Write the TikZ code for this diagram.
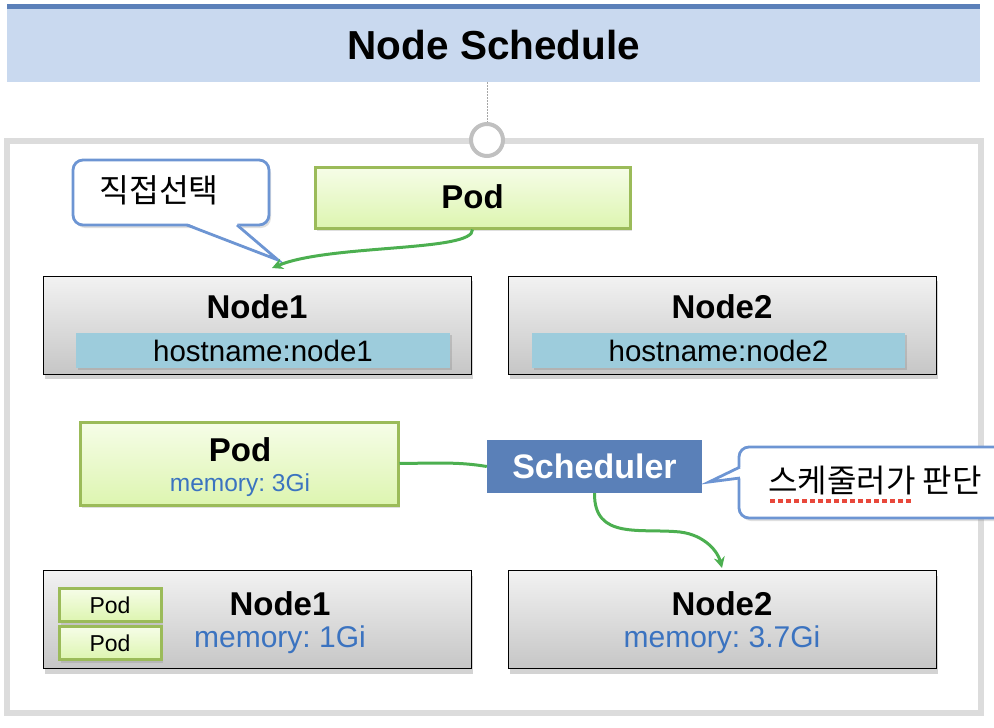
\documentclass[tikz,border=0pt]{standalone}
\usepackage{fontspec}
\setmainfont{Liberation Sans}
\newfontfamily\kr{Noto Sans CJK KR}
\usetikzlibrary{shadows,arrows.meta}
\frenchspacing
\definecolor{titlefill}{HTML}{C9D9EF}
\definecolor{titlestripe}{HTML}{5B80B9}
\definecolor{podtopc}{HTML}{F6FDE8}
\definecolor{podbotc}{HTML}{DDF5B0}
\definecolor{podborder}{HTML}{9BBB59}
\definecolor{nodetopc}{HTML}{F2F2F2}
\definecolor{nodebotc}{HTML}{C6C6C6}
\definecolor{hostfill}{HTML}{9DCCDC}
\definecolor{memblue}{HTML}{3B73C0}
\definecolor{schedfill}{HTML}{5A80B8}
\definecolor{callborder}{HTML}{6D95D3}
\definecolor{arrgreen}{HTML}{4CAF50}
\definecolor{framegray}{HTML}{DCDCDC}
\definecolor{circgray}{HTML}{C0C0C0}
\definecolor{spellred}{HTML}{E8483B}
\begin{document}
\begin{tikzpicture}[x=1pt,y=-1pt,
  nodebox/.style={draw=black, line width=0.9pt, top color=nodetopc, bottom color=nodebotc, inner sep=0pt,
    drop shadow={opacity=0.35, shadow xshift=2pt, shadow yshift=-5pt}},
  podbox/.style={draw=podborder, line width=3pt, top color=podtopc, bottom color=podbotc, inner sep=0pt,
    drop shadow={opacity=0.25, shadow xshift=2pt, shadow yshift=-3pt}},
  hostbar/.style={fill=hostfill, inner sep=0pt, font=\fontsize{29.5}{33}\selectfont,
    drop shadow={opacity=0.3, shadow xshift=2pt, shadow yshift=-2pt}},
  boldlabel/.style={font=\bfseries\fontsize{33}{37}\selectfont, inner sep=0pt},
  memlabel/.style={font=\fontsize{30}{34}\selectfont, text=memblue, inner sep=0pt},
  callout/.style={draw=callborder, line width=2.8pt, fill=white, rounded corners=10pt, inner sep=0pt,
    drop shadow={opacity=0.25, shadow xshift=2pt, shadow yshift=-3pt}},
  garrow/.style={draw=arrgreen, line width=3pt, -{Stealth[length=11pt,width=11pt]}},
  gline/.style={draw=arrgreen, line width=3pt}
]
\useasboundingbox (0,0) rectangle (994,728);

% title band
\node[fill=titlefill, minimum width=973pt, minimum height=78pt, inner sep=0pt] (title) at (493.5,43) {};
\fill[titlestripe] (7,4) rectangle (980,9);
\node[font=\bfseries\fontsize{40.5}{45}\selectfont, inner sep=0pt] (titletext) at (494,45) {Node Schedule};

% outer frame
\node[draw=framegray, line width=6pt, minimum width=974pt, minimum height=572pt, inner sep=0pt] (frame) at (494,427) {};
\node[circle, draw=circgray, line width=4pt, fill=white, minimum size=32pt, inner sep=0pt] (ring) at (487,140) {};
\draw[gray!70, line width=0.6pt, dash pattern=on 1.5pt off 1.5pt] (title.south -| ring) -- (ring.north);

% callout 1
\node[callout, minimum width=196pt, minimum height=65pt] (call1) at (171,192.5) {};
\coordinate (c1tip) at (278,260);
\fill[white] (187,223.2) -- (c1tip) -- (237,223.2) -- cycle;
\draw[callborder, line width=2.8pt, line join=miter] (187,225) -- (c1tip) -- (237,225);
\node[font=\kr\fontsize{32.5}{36}\selectfont, inner sep=0pt] (call1text) at (159,190) {직접선택};

% top pod
\node[podbox, minimum width=315pt, minimum height=61pt] (podtop) at (472.5,197.5) {};
\node[boldlabel] (podtoplabel) at (472.5,197) {Pod};

% top nodes
\node[nodebox, minimum width=428pt, minimum height=98pt] (n1a) at (257,325) {};
\node[boldlabel] (n1alabel) at (257,307) {Node1};
\node[hostbar, minimum width=374pt, minimum height=35pt] (host1) at (263,350.5) {hostname:node1};
\node[nodebox, minimum width=428pt, minimum height=98pt] (n2a) at (722,325) {};
\node[boldlabel] (n2alabel) at (722,307) {Node2};
\node[hostbar, minimum width=373pt, minimum height=35pt] (host2) at (718.5,350.5) {hostname:node2};

\coordinate (n1aend) at (272,268);
\draw[garrow] (podtop.south) .. controls (474,252) and (330,244) .. (n1aend);

% middle pod and scheduler
\node[podbox, minimum width=318pt, minimum height=83pt] (podmid) at (239,463.5) {};
\node[boldlabel] (podmidlabel) at (240,450) {Pod};
\node[memlabel, font=\fontsize{24.5}{28}\selectfont] (podmidmem) at (240,485) {memory: 3Gi};
\node[fill=schedfill, minimum width=215pt, minimum height=53pt, inner sep=0pt, text=white,
  font=\bfseries\fontsize{34}{38}\selectfont] (sched) at (594.5,466.5) {Scheduler};
\draw[gline] (podmid.east) .. controls (440,463) and (460,462) .. (sched.west);

% callout 2
\node[callout, minimum width=266pt, minimum height=71pt] (call2) at (872,482.5) {};
\coordinate (c2tip) at (709,482);
\fill[white] (741.8,466.5) -- (c2tip) -- (741.8,478.5) -- cycle;
\draw[callborder, line width=2.8pt, line join=miter] (740,467) -- (c2tip) -- (740,478);
\node[font=\kr\fontsize{32}{36}\selectfont, inner sep=0pt] (call2text) at (875,481) {스케줄러가 판단};
\draw[spellred, line width=3.5pt, dash pattern=on 4.5pt off 3.5pt] (770,501) -- (914,501);

% bottom nodes
\node[nodebox, minimum width=428pt, minimum height=98pt] (n1b) at (257,619.5) {};
\node[podbox, minimum width=102pt, minimum height=33pt] (smallpod1) at (110,605) {};
\node[font=\fontsize{23}{26}\selectfont, inner sep=0pt] (smallpod1label) at (110,605) {Pod};
\node[podbox, minimum width=102pt, minimum height=33pt] (smallpod2) at (110,643) {};
\node[font=\fontsize{23}{26}\selectfont, inner sep=0pt] (smallpod2label) at (110,643) {Pod};
\node[boldlabel] (n1blabel) at (280,604) {Node1};
\node[memlabel] (n1bmem) at (280,640) {memory: 1Gi};

\node[nodebox, minimum width=428pt, minimum height=98pt] (n2b) at (722,619.5) {};
\node[boldlabel] (n2blabel) at (722,604) {Node2};
\node[memlabel] (n2bmem) at (722,640) {memory: 3.7Gi};

\coordinate (n2bend) at (722,568);
\draw[garrow] (sched.south) .. controls (594,540) and (640,528) .. (680,532) .. controls (705,535) and (718,552) .. (n2bend);
\end{tikzpicture}
\end{document}
